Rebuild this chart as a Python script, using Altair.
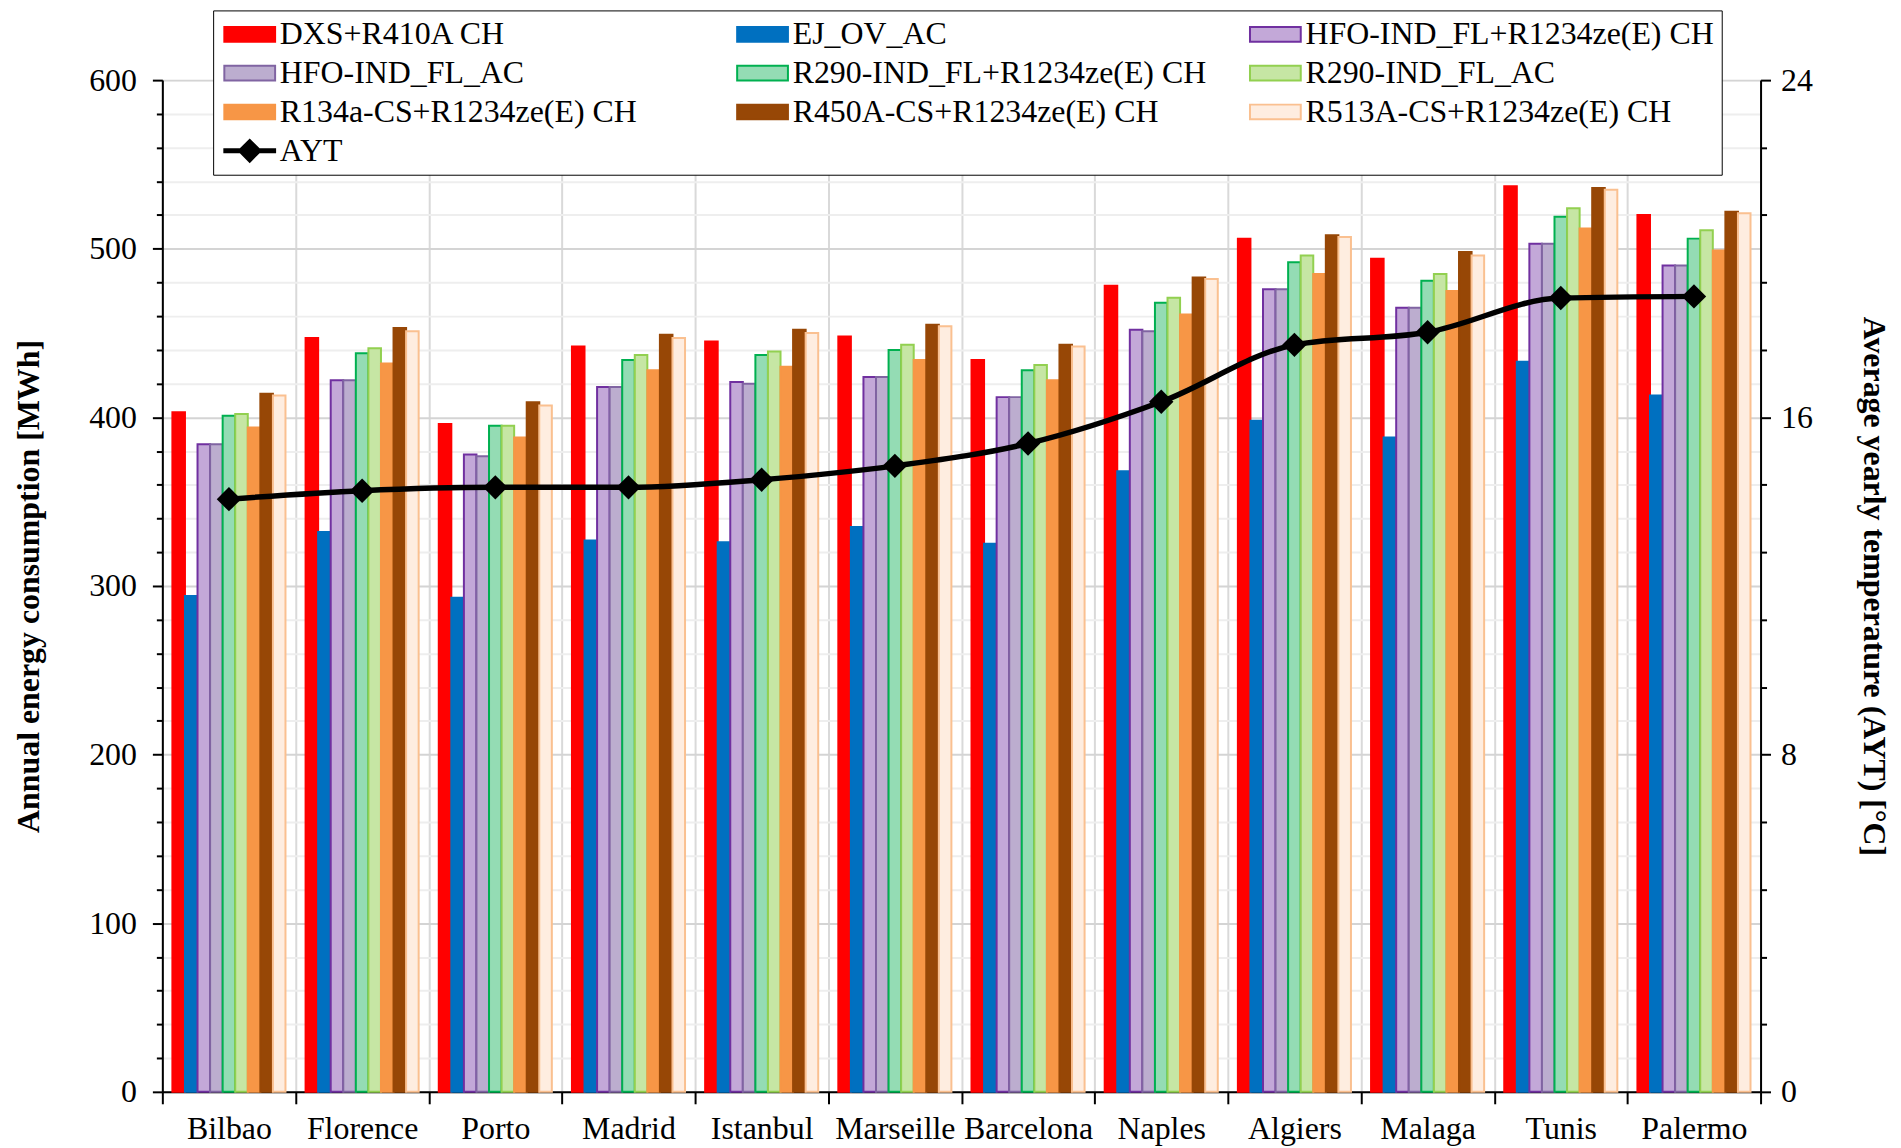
import altair as alt
import pandas as pd

FONT = "Liberation Serif"

cities = ["Bilbao", "Florence", "Porto", "Madrid", "Istanbul", "Marseille",
          "Barcelona", "Naples", "Algiers", "Malaga", "Tunis", "Palermo"]

series = ["DXS+R410A CH", "EJ_OV_AC", "HFO-IND_FL+R1234ze(E) CH", "HFO-IND_FL_AC",
          "R290-IND_FL+R1234ze(E) CH", "R290-IND_FL_AC", "R134a-CS+R1234ze(E) CH",
          "R450A-CS+R1234ze(E) CH", "R513A-CS+R1234ze(E) CH"]

dxs_r410a_ch = [403, 447, 396, 442, 445, 448, 434, 478, 506, 494, 537, 520]
ej_ov_ac = [294, 332, 293, 327, 326, 335, 325, 368, 398, 388, 433, 413]
hfo_fl_ch = [384, 422, 378, 418, 421, 424, 412, 452, 476, 465, 503, 490]
hfo_fl_ac = [384, 422, 377, 418, 420, 424, 412, 451, 476, 465, 503, 490]
r290_fl_ch = [401, 438, 395, 434, 437, 440, 428, 468, 492, 481, 519, 506]
r290_fl_ac = [402, 441, 395, 437, 439, 443, 431, 471, 496, 485, 524, 511]
r134a_cs_ch = [394, 432, 388, 428, 430, 434, 422, 461, 485, 475, 512, 499]
r450a_cs_ch = [414, 453, 409, 449, 452, 455, 443, 483, 508, 498, 536, 522]
r513a_cs_ch = [413, 451, 407, 447, 450, 454, 442, 482, 507, 496, 535, 521]

ayt = [14.06, 14.26, 14.34, 14.34, 14.52, 14.85, 15.38, 16.37, 17.72, 18.02, 18.83, 18.87]

series_values = [dxs_r410a_ch, ej_ov_ac, hfo_fl_ch, hfo_fl_ac, r290_fl_ch,
                 r290_fl_ac, r134a_cs_ch, r450a_cs_ch, r513a_cs_ch]

rows = []
for s, vals in zip(series, series_values):
    for c, v in zip(cities, vals):
        rows.append({"city": c, "series": s, "value": v})
bars_df = pd.DataFrame(rows)
ayt_df = pd.DataFrame({"city": cities, "ayt": ayt})

legend_domain = series + ["AYT"]
fill_range = ["#ff0000", "#0070c0", "#c3a8d8", "#bcadcf", "#94dcb4",
              "#c6e6a4", "#f79646", "#974706", "#feede0", "#000000"]
stroke_range = ["#ff0000", "#0070c0", "#7030a0", "#8064a2", "#00b050",
                "#92d050", "#f79646", "#974706", "#fac090", "#000000"]
BAR_PATH = "M-1,-0.58H3V0.58H-1Z"
AYT_PATH = ("M-1,-0.12L0.26,-0.12L1,-0.86L1.74,-0.12L3,-0.12L3,0.12"
            "L1.74,0.12L1,0.86L0.26,0.12L-1,0.12Z")
shape_range = [BAR_PATH] * 9 + [AYT_PATH]

fill_scale = alt.Scale(domain=legend_domain, range=fill_range)
stroke_scale = alt.Scale(domain=legend_domain, range=stroke_range)
shape_scale = alt.Scale(domain=legend_domain, range=shape_range)

leg = alt.Legend(
    title=None, orient="none", legendX=51, legendY=-70, columns=3, gridAlign="all",
    direction="horizontal", values=legend_domain,
    columnPadding=39, rowPadding=7, symbolSize=650, symbolStrokeWidth=2,
    symbolOpacity=1, labelFont=FONT, labelFontSize=32, labelLimit=800,
    labelOffset=27, labelColor="black", padding=8, strokeColor="black",
    fillColor="white",
)

left_major = "datum.value % 100 === 0"
left_axis = alt.Axis(
    values=list(range(0, 601, 20)),
    labelExpr="datum.value % 100 === 0 ? datum.label : ''",
    title="Annual energy consumption [MWh]", titleFont=FONT, titleFontSize=32,
    titleFontWeight="bold", titlePadding=43, titleColor="black",
    labelFont=FONT, labelFontSize=32, labelPadding=16, labelColor="black",
    labelFlush=False, labelOverlap=False,
    tickSize=alt.condition(left_major, alt.value(10), alt.value(6)),
    tickColor="black", tickWidth=2, domainColor="black", domainWidth=2,
    grid=True,
    gridColor=alt.condition(left_major, alt.value("#d4d4d4"), alt.value("#eeeeee")),
    gridWidth=2,
)

right_major = "abs(datum.value/4 - round(datum.value/4)) < 0.001"
right_axis = alt.Axis(
    orient="right",
    values=[round(i * 0.8, 1) for i in range(31)],
    labelExpr="abs(datum.value/4 - round(datum.value/4)) < 0.001 ? datum.label : ''",
    format="d",
    title="Average yearly temperature (AYT) [°C]", titleFont=FONT, titleFontSize=32,
    titleFontWeight="bold", titlePadding=44, titleColor="black", titleAngle=90,
    labelFont=FONT, labelFontSize=32, labelPadding=10, labelColor="black",
    labelFlush=False, labelOverlap=False,
    tickSize=alt.condition(right_major, alt.value(10), alt.value(6)),
    tickColor="black", tickWidth=2, domainColor="black", domainWidth=2,
    grid=False,
)

x_axis = alt.Axis(
    title=None, labelAngle=0, labelFont=FONT, labelFontSize=32, labelColor="black",
    labelPadding=10, labelOverlap=False, labelLimit=400,
    tickBand="extent", ticks=True, tickSize=12, tickColor="black", tickWidth=2,
    domainColor="black", domainWidth=2, grid=True, gridColor="#d9d9d9", gridWidth=2,
)
x_scale = alt.Scale(paddingInner=0, paddingOuter=0)

bars = alt.Chart(bars_df).mark_bar(strokeWidth=2).encode(
    x=alt.X("city:N", sort=cities, scale=x_scale, axis=x_axis),
    xOffset=alt.XOffset("series:N", sort=series,
                        scale=alt.Scale(paddingInner=0, paddingOuter=0.8)),
    y=alt.Y("value:Q", scale=alt.Scale(domain=[0, 600], nice=False), axis=left_axis),
    fill=alt.Fill("series:N", scale=fill_scale, legend=leg),
    stroke=alt.Stroke("series:N", scale=stroke_scale, legend=leg),
)

legend_pts = alt.Chart(bars_df).mark_point(filled=True, opacity=0).encode(
    x=alt.X("city:N", sort=cities, scale=x_scale, axis=x_axis),
    y=alt.Y("value:Q", scale=alt.Scale(domain=[0, 600], nice=False), axis=None),
    fill=alt.Fill("series:N", scale=fill_scale, legend=leg),
    stroke=alt.Stroke("series:N", scale=stroke_scale, legend=leg),
    shape=alt.Shape("series:N", scale=shape_scale, legend=leg),
)

line = alt.Chart(ayt_df).mark_line(
    color="black", strokeWidth=5.5, interpolate="monotone",
    point=alt.OverlayMarkDef(shape="diamond", size=600, filled=True, color="black", opacity=1),
).encode(
    x=alt.X("city:N", sort=cities, scale=x_scale, axis=x_axis),
    y=alt.Y("ayt:Q", scale=alt.Scale(domain=[0, 24], nice=False), axis=right_axis),
)

chart = alt.layer(bars, legend_pts, line).resolve_scale(y="independent").properties(
    width=1605, height=1016,
    padding={"left": 155, "top": 70, "right": 133, "bottom": 60},
    autosize=alt.AutoSizeParams(type="none"),
).configure_view(stroke=None).configure(background="white")

chart.save("out.html", embed_options={"renderer": "svg", "actions": False})
